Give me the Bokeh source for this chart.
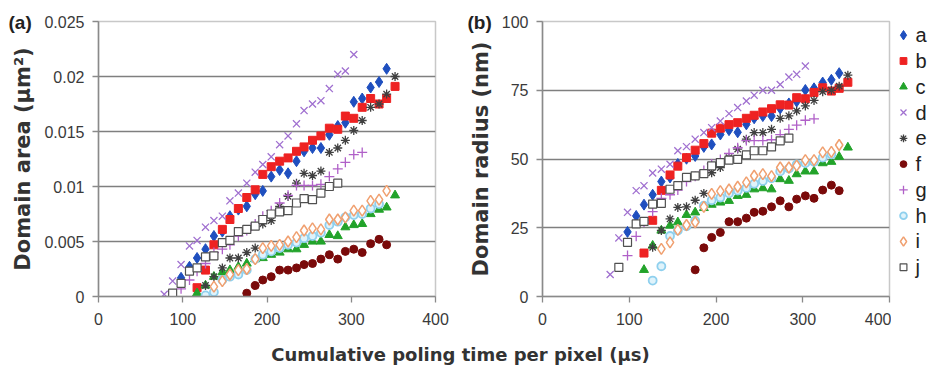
import numpy as np
from bokeh.plotting import figure
from bokeh.models import (Range1d, FixedTicker, CustomJSTickFormatter, Div)
from bokeh.core.properties import value
from bokeh.layouts import row, column
from bokeh.embed import file_html
from bokeh.resources import INLINE

_ = None
# Cumulative poling time per pixel (us), common sampling grid
TIME = [78, 88, 98, 108, 117, 127, 137, 147, 156, 166, 176, 186, 195, 205, 215,
        225, 235, 244, 254, 264, 274, 284, 293, 303, 313, 323, 333, 342, 352]

SERIES = ["a", "b", "c", "d", "e", "f", "g", "h", "i", "j"]

# Domain area (um^2)
AREA_A = [_, _, 0.0017, 0.0027, 0.0035, 0.0043, 0.0055, 0.0059, 0.0073, 0.0079, 0.0082, 0.0093, 0.0096, 0.0109, 0.0115,
          0.0112, 0.0123, 0.0132, 0.0135, 0.0135, 0.0147, 0.0155, 0.0158, 0.0177, 0.0180, 0.0190, 0.0195, 0.0207, _]
AREA_B = [_, _, _, _, 0.0008, 0.0024, 0.0047, 0.0061, 0.0070, 0.0080, 0.0090, 0.0097, 0.0111, 0.0118, 0.0123,
          0.0126, 0.0132, 0.0136, 0.0142, 0.0146, 0.0153, 0.0152, 0.0164, 0.0162, 0.0172, 0.0180, 0.0175, 0.0180, 0.0191]
AREA_C = [_, _, _, _, 0.0003, 0.0010, 0.0018, 0.0022, 0.0024, 0.0027, 0.0030, 0.0034, 0.0035, 0.0038, 0.0040,
          0.0043, 0.0043, 0.0047, 0.0050, 0.0050, 0.0056, 0.0055, 0.0063, 0.0065, 0.0066, 0.0075, 0.0079, 0.0081, 0.0092]
AREA_D = [0.0002, 0.0014, 0.0029, 0.0046, 0.0051, 0.0063, 0.0069, 0.0073, 0.0087, 0.0094, 0.0103, 0.0113, 0.0120, 0.0127, 0.0138,
          0.0146, 0.0157, 0.0169, 0.0175, 0.0178, 0.0189, 0.0202, 0.0205, 0.0220, _, _, _, _, _]
AREA_E = [_, _, _, _, _, 0.0010, 0.0018, 0.0026, 0.0035, 0.0035, 0.0040, 0.0044, 0.0066, 0.0069, 0.0082,
          0.0091, 0.0103, 0.0112, 0.0110, 0.0114, 0.0131, 0.0135, 0.0142, 0.0151, 0.0160, 0.0172, 0.0175, 0.0184, 0.0200]
AREA_F = [_, _, _, _, _, _, _, _, _, _, 0.0003, 0.0010, 0.0015, 0.0018, 0.0024,
          0.0024, 0.0026, 0.0029, 0.0030, 0.0034, 0.0038, 0.0034, 0.0041, 0.0043, 0.0040, 0.0048, 0.0052, 0.0047, _]
AREA_G = [_, _, 0.0007, 0.0015, 0.0023, 0.0030, 0.0040, 0.0043, 0.0047, 0.0055, 0.0060, 0.0066, 0.0073, 0.0078, 0.0085,
          0.0092, 0.0101, 0.0101, 0.0101, 0.0102, 0.0109, 0.0116, 0.0122, 0.0129, 0.0131, _, _, _, _]
AREA_H = [_, _, _, _, _, 0.0001, 0.0004, 0.0015, 0.0018, 0.0020, 0.0024, 0.0034, 0.0038, 0.0041, 0.0044,
          0.0047, 0.0049, 0.0053, 0.0055, 0.0058, 0.0065, 0.0068, 0.0072, 0.0074, 0.0075, 0.0080, 0.0084, _, _]
AREA_I = [_, _, _, _, _, _, 0.0009, 0.0014, 0.0020, 0.0024, 0.0025, 0.0034, 0.0044, 0.0046, 0.0047,
          0.0050, 0.0054, 0.0060, 0.0062, 0.0061, 0.0070, 0.0070, 0.0072, 0.0078, 0.0078, 0.0087, 0.0088, 0.0096, _]
AREA_J = [_, 0.0003, 0.0012, 0.0023, 0.0026, 0.0036, 0.0037, 0.0049, 0.0051, 0.0059, 0.0061, 0.0064, 0.0070, 0.0075, 0.0077,
          0.0078, 0.0085, 0.0089, 0.0088, 0.0094, 0.0100, 0.0103, _, _, _, _, _, _, _]

# Domain radius (nm)
RAD_A = [_, _, 23.5, 29.3, 33.4, 37.0, 41.8, 43.3, 48.2, 50.1, 51.1, 54.4, 55.3, 58.9, 60.5,
         59.7, 62.6, 64.8, 65.6, 65.6, 68.4, 70.2, 70.9, 75.1, 75.7, 77.8, 78.8, 81.2, _]
RAD_B = [_, _, _, _, 15.8, 27.7, 38.6, 44.2, 47.4, 50.5, 53.2, 55.6, 59.4, 61.2, 62.5,
         63.2, 64.8, 65.9, 67.1, 68.3, 69.7, 69.6, 72.3, 71.9, 74.2, 75.9, 74.7, 75.7, 77.9]
RAD_C = [_, _, _, _, 9.7, 18.5, 24.0, 25.8, 27.0, 29.7, 30.6, 32.2, 33.4, 34.2, 34.8,
         36.6, 37.0, 39.0, 39.4, 39.0, 42.7, 42.1, 44.5, 45.5, 45.5, 48.5, 49.0, 50.8, 54.2]
RAD_D = [8.0, 21.3, 30.6, 38.5, 40.3, 44.9, 46.3, 48.1, 53.0, 54.5, 57.2, 59.6, 61.4, 63.8, 66.5,
         68.7, 71.1, 73.2, 75.0, 75.0, 77.1, 79.8, 80.8, 83.8, _, _, _, _, _]
RAD_E = [_, _, _, _, _, 17.9, 24.0, 28.2, 32.4, 32.6, 35.0, 37.5, 45.0, 46.9, 50.5,
         53.6, 57.2, 59.6, 59.6, 60.8, 64.8, 65.7, 67.5, 69.3, 71.3, 74.5, 75.0, 76.5, 80.5]
RAD_F = [_, _, _, _, _, _, _, _, _, _, 9.7, 17.7, 21.5, 23.3, 27.2,
         27.2, 28.5, 30.6, 31.0, 32.6, 34.8, 32.6, 35.4, 36.6, 35.7, 38.7, 40.5, 38.5, _]
RAD_G = [_, _, 14.9, 21.9, 27.1, 30.9, 35.7, 37.0, 38.7, 41.8, 43.7, 45.8, 48.2, 49.8, 52.0,
         54.1, 56.7, 56.7, 56.7, 57.0, 58.9, 60.8, 62.3, 64.1, 64.6, _, _, _, _]
RAD_H = [_, _, _, _, _, 5.8, 11.0, 22.0, 24.0, 25.5, 27.6, 33.0, 35.0, 36.0, 37.5,
         38.5, 39.5, 41.0, 42.0, 43.0, 45.5, 46.5, 48.0, 48.5, 49.0, 50.5, 51.7, _, _]
RAD_I = [_, _, _, _, _, _, 17.3, 19.7, 24.2, 26.0, 27.0, 32.6, 37.3, 38.3, 38.9,
         39.9, 41.5, 43.9, 44.5, 43.8, 46.9, 46.9, 47.6, 49.6, 49.6, 52.4, 52.6, 55.1, _]
RAD_J = [_, 10.6, 19.7, 26.4, 27.3, 33.6, 33.9, 39.0, 40.3, 43.3, 43.9, 44.7, 47.5, 48.7, 49.6,
         49.9, 51.5, 53.0, 53.0, 54.4, 56.6, 57.6, _, _, _, _, _, _, _]

AREAS = [AREA_A, AREA_B, AREA_C, AREA_D, AREA_E, AREA_F, AREA_G, AREA_H, AREA_I, AREA_J]
RADII = [RAD_A, RAD_B, RAD_C, RAD_D, RAD_E, RAD_F, RAD_G, RAD_H, RAD_I, RAD_J]

X_TICKS = [0, 100, 200, 300, 400]
AREA_TICKS = [0, 0.005, 0.01, 0.015, 0.02, 0.025]
RAD_TICKS = [0, 25, 50, 75, 100]

STYLES = {
    "a": dict(marker="diamond", size=11, fill_color="#1f4fbf", line_color="#1f4fbf", line_width=1),
    "b": dict(marker="square", size=8, fill_color="#ee2222", line_color="#ee2222", line_width=1),
    "c": dict(marker="triangle", size=9, fill_color="#22a32a", line_color="#22a32a", line_width=1),
    "d": dict(marker="x", size=10, fill_color=None, line_color="#a070d0", line_width=1.3),
    "e": dict(marker="asterisk", size=9, fill_color=None, line_color="#404040", line_width=1.3),
    "f": dict(marker="circle", size=8, fill_color="#7a0a0a", line_color="#7a0a0a", line_width=1),
    "g": dict(marker="cross", size=10, fill_color=None, line_color="#b060c8", line_width=1.3),
    "h": dict(marker="circle", size=8, fill_color="#dff3fb", line_color="#8fd0ee", line_width=1.8),
    "i": dict(marker="diamond", size=11, fill_color="white", line_color="#f0a070", line_width=1.5),
    "j": dict(marker="square", size=8, fill_color="white", line_color="#505050", line_width=1.2),
}

FONT = "Liberation Sans"
LABEL_FONT = "DejaVu Sans"
FIG_H = 342
TOP = 21
FRAME_H = 275
BOTTOM = FIG_H - TOP - FRAME_H


def to_arr(vals):
    return np.array([np.nan if v is None else v for v in vals], dtype=float)


def make_fig(width, ymax, yticks, ylabel, tag, tag_offset, border_left, border_right, yfmt):
    p = figure(width=width, height=FIG_H, output_backend="svg", toolbar_location=None,
               x_range=Range1d(0, 400), y_range=Range1d(0, ymax),
               min_border_left=border_left, min_border_right=border_right,
               min_border_top=TOP, min_border_bottom=BOTTOM)
    p.background_fill_color = "white"
    p.border_fill_color = "white"
    p.outline_line_color = "#c8c8c8"
    p.outline_line_width = 1.5
    p.xgrid.grid_line_color = None
    p.ygrid.grid_line_color = "#7f7f7f"
    p.ygrid.grid_line_width = 1.6
    p.ygrid.ticker = FixedTicker(ticks=yticks[:-1])
    p.xaxis.ticker = FixedTicker(ticks=X_TICKS)
    p.yaxis.ticker = FixedTicker(ticks=yticks)
    if yfmt is not None:
        p.yaxis.formatter = yfmt
    for ax in (p.xaxis[0], p.yaxis[0]):
        ax.axis_line_color = "#8a8a8a"
        ax.axis_line_width = 1.5
        ax.major_tick_line_color = "#8a8a8a"
        ax.major_tick_line_width = 1.3
        ax.major_tick_out = 6
        ax.major_tick_in = 0
        ax.minor_tick_line_color = None
        ax.major_label_text_font = FONT
        ax.major_label_text_font_size = "16px"
        ax.major_label_text_color = "#3a3a3a"
    p.yaxis.major_label_standoff = 8
    p.xaxis.major_label_standoff = 10
    p.yaxis.axis_label = ylabel
    p.yaxis.axis_label_text_font = LABEL_FONT
    p.yaxis.axis_label_text_font_size = "21px"
    p.yaxis.axis_label_text_font_style = "bold"
    p.yaxis.axis_label_text_color = "#333333"
    p.yaxis.axis_label_standoff = 6
    # panel tag "(a)" / "(b)" drawn as the figure title, pulled to the top-left corner
    p.title.text = tag
    p.title.align = "left"
    p.title.offset = tag_offset
    p.title.standoff = -22
    p.title.vertical_align = "bottom"
    p.title.text_font = FONT
    p.title.text_font_size = "19px"
    p.title.text_font_style = "bold"
    p.title.text_color = "#222222"
    return p


area_fmt = CustomJSTickFormatter(code="return String(parseFloat(tick.toFixed(4)));")
pa = make_fig(455, 0.025, AREA_TICKS, "Domain area (µm²)", "(a)", -90, 98, 20, area_fmt)
pb = make_fig(436, 100, RAD_TICKS, "Domain radius (nm)", "(b)", -75, 87, 2, None)

for name, area, rad in zip(SERIES, AREAS, RADII):
    st = STYLES[name]
    pa.scatter(TIME, to_arr(area), **st)
    pb.scatter(TIME, to_arr(rad), **st)

# legend as a small companion figure, one entry per series (frame runs to 20px above the bottom)
LEG_W = 44
LEG_BOTTOM = 20
leg = figure(width=LEG_W, height=FIG_H, output_backend="svg", toolbar_location=None,
             x_range=Range1d(0, LEG_W), y_range=Range1d(10.134, -0.5315),
             x_axis_type=None, y_axis_type=None,
             min_border_left=0, min_border_right=0, min_border_top=TOP,
             min_border_bottom=LEG_BOTTOM)
leg.grid.grid_line_color = None
leg.outline_line_color = None
leg.background_fill_color = "white"
leg.border_fill_color = "white"
for k, name in enumerate(SERIES):
    st = dict(STYLES[name])
    st["size"] = st["size"] * 0.85
    leg.scatter([12], [k], **st)
leg.text(x=[24] * len(SERIES), y=list(range(len(SERIES))), text=SERIES,
         text_font=value(FONT), text_font_size="20px", text_color="#222222",
         text_baseline="middle", text_align="left")

xlabel = Div(text="Cumulative poling time per pixel (µs)", width=921, height=26,
             margin=(0, 0, 0, 0),
             styles={"text-align": "center", "font-family": LABEL_FONT, "font-size": "18px",
                     "font-weight": "bold", "color": "#333333", "line-height": "26px"})

layout = column(row(pa, pb, leg), xlabel)

open("out.html", "w").write(file_html(layout, INLINE))
